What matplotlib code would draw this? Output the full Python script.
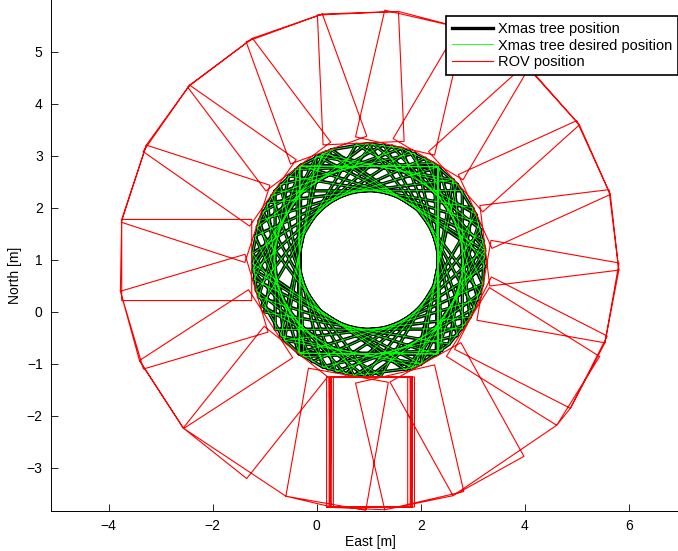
import numpy as np
import matplotlib.pyplot as plt

plt.rcParams['font.family'] = ['Liberation Sans', 'DejaVu Sans']

# centre of the Xmas tree [m]
centre_e = 1.0
centre_n = 1.0

# ROV heading seen from the tree centre [deg, 0 = east], in time order
rov_heading = [270, 270, 270.5, 283, 299, 328, 333, 350, 7, 24.5, 42, 59.5, 77,
               92.5, 110, 127, 145, 162, 180, 196.5, 213, 231.5, 260, 269.5,
               270, 270, 270]
# sideways drift of the ROV while parked under the tree [m]
rov_drift = [-0.03, 0.04, 0.0, 0, 0, 0, 0, 0, 0, 0, 0, 0, 0,
             0, 0, 0, 0, 0, 0, 0, 0, 0, 0, 0.08,
             0.1, 0.06, 0.02]

# Xmas tree yaw [deg] at the same samples, actual and desired
tree_yaw = [0, 0.5, -0.5, 13, 29, 58, 63, 80, 97, 114.5, 132, 149.5, 167,
            182.5, 200, 217, 235, 252, 270, 286.5, 303, 321.5, 350, 359,
            0, 1, 0]
tree_yaw_desired = [0, 0, 0, 13.2, 29.2, 58.2, 63.2, 80.2, 97.2, 114.7, 132.2, 149.7, 167.2,
                    182.7, 200.2, 217.2, 235.2, 252.2, 270.2, 286.7, 303.2, 321.7, 350.2, 359.5,
                    0, 0, 0]

# outline sizes [m]
tree_half_e, tree_half_n = 1.33, 1.8
rov_half_width = 0.78
rov_front, rov_back = 2.25, 4.75


def tree_outline(yaw):
    xs, ys = [], []
    for a in np.radians(yaw):
        c, s = np.cos(a), np.sin(a)
        for dx, dy in [(-tree_half_e, -tree_half_n), (tree_half_e, -tree_half_n),
                       (tree_half_e, tree_half_n), (-tree_half_e, tree_half_n),
                       (-tree_half_e, -tree_half_n)]:
            xs.append(centre_e + c * dx - s * dy)
            ys.append(centre_n + s * dx + c * dy)
    return xs, ys


def rov_outline(heading, drift):
    xs, ys = [], []
    for h, d in zip(np.radians(heading), drift):
        ux, uy = np.cos(h), np.sin(h)
        tx, ty = -uy, ux
        for r, w in [(rov_back, -rov_half_width), (rov_front, -rov_half_width),
                     (rov_front, rov_half_width), (rov_back, rov_half_width),
                     (rov_back, -rov_half_width)]:
            xs.append(centre_e + r * ux + w * tx + d)
            ys.append(centre_n + r * uy + w * ty)
    return xs, ys


fig = plt.figure(figsize=(6.78, 5.51), dpi=100)
ax = fig.add_axes([51 / 678, 40 / 551, 640 / 678, 520 / 551])

tx, ty = tree_outline(tree_yaw)
dx, dy = tree_outline(tree_yaw_desired)
rx, ry = rov_outline(rov_heading, rov_drift)

ax.plot(tx, ty, color='black', lw=2.4, label='Xmas tree position')
ax.plot(dx, dy, color='#00ff00', lw=0.6, label='Xmas tree desired position')
ax.plot(rx, ry, color='red', lw=0.8, label='ROV position')

ax.set_xlim(-5.11, -5.11 + 640 / 52)
ax.set_ylim(-3.827, -3.827 + 520 / 52)
ax.set_xticks([-4, -2, 0, 2, 4, 6])
ax.set_yticks([-3, -2, -1, 0, 1, 2, 3, 4, 5])
ax.tick_params(direction='in', length=5, width=0.6, labelsize=10, pad=6)
for side in ['left', 'bottom']:
    ax.spines[side].set_linewidth(0.7)
for side in ['top', 'right']:
    ax.spines[side].set_visible(False)

ax.set_xlabel('East [m]', fontsize=10)
ax.set_ylabel('North [m]', fontsize=10)
ax.xaxis.set_label_coords((370 - 51) / 640, -0.047)
ax.yaxis.set_label_coords(-0.045, (551 - 275 - 40) / 520)

leg = fig.legend(loc='upper left', bbox_to_anchor=(446 / 678, 1 - 16 / 551),
                 fontsize=10.5, fancybox=False, edgecolor='black', framealpha=1,
                 handlelength=2.8, handletextpad=0.35, labelspacing=0.19,
                 borderpad=0.4, borderaxespad=0)
leg.get_frame().set_linewidth(1.2)

fig.savefig('out.png', dpi=100)
